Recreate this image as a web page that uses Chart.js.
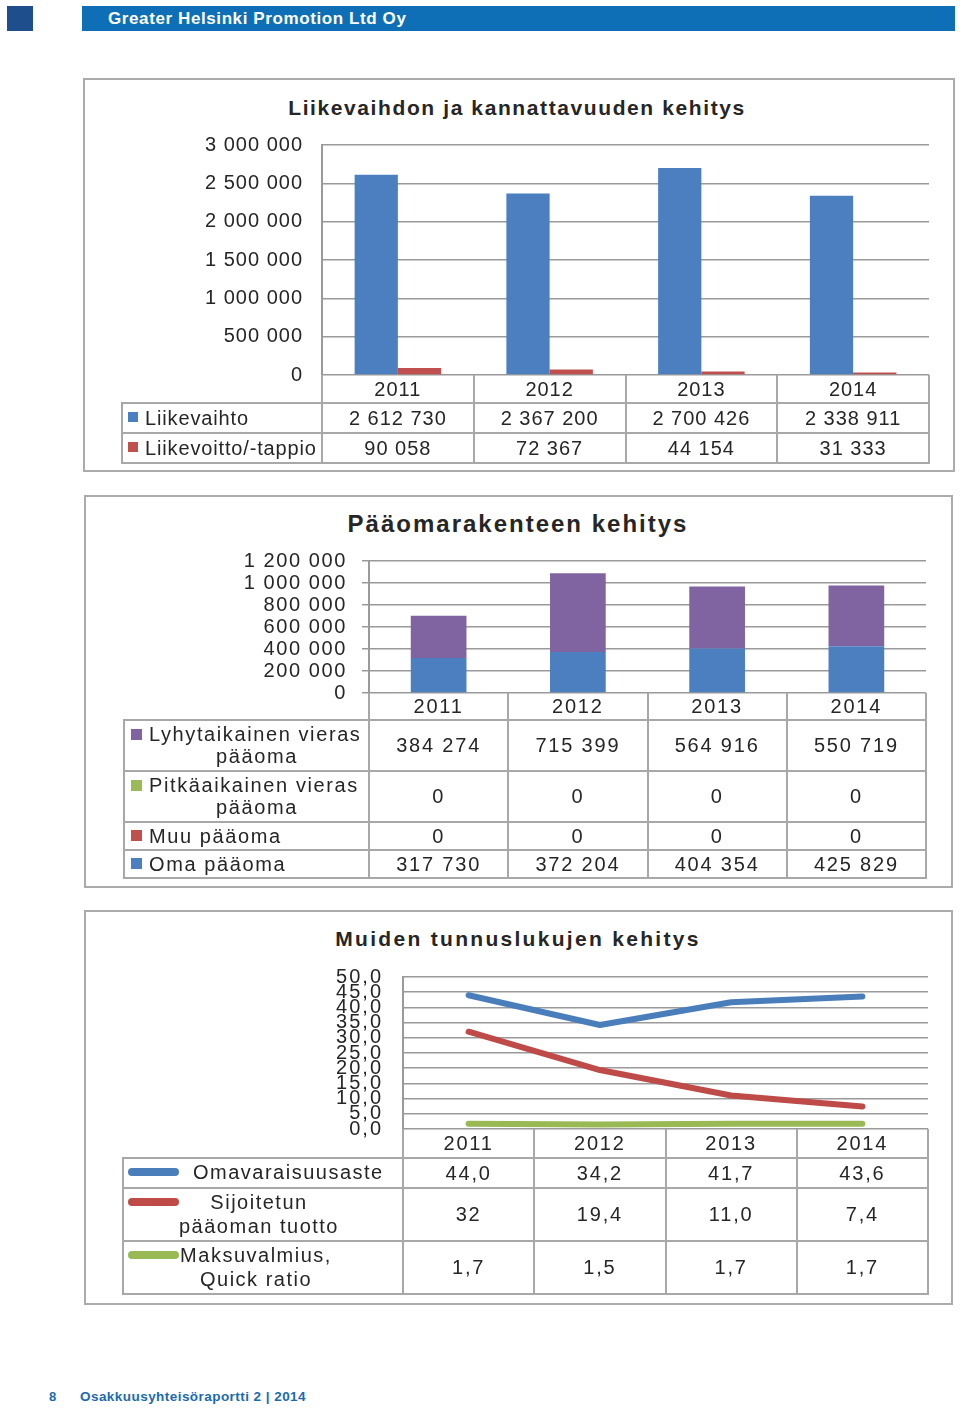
<!DOCTYPE html>
<html><head><meta charset="utf-8">
<script src="https://cdn.jsdelivr.net/npm/chart.js@4"></script>
<style>
body{margin:0;width:960px;height:1412px;position:relative;background:#fff;font-family:"Liberation Sans",Arial,sans-serif;color:#262626;overflow:hidden}
.box{position:absolute;border:2px solid #ababab;box-sizing:border-box}
.title{position:absolute;font-weight:bold;white-space:nowrap;transform:translateX(-50%);line-height:1}
.t{position:absolute;display:flex;align-items:center;justify-content:center;white-space:nowrap;box-sizing:border-box;font-size:20px}
.lab{position:absolute;white-space:nowrap;box-sizing:border-box;font-size:20px}
.ln{position:absolute;background:#a8a8a8}
.sq{display:inline-block;vertical-align:middle;position:relative;top:-1px}
.mk{position:absolute;height:8px;border-radius:4px}
canvas{position:absolute}
</style></head><body>

<div style="position:absolute;left:7px;top:6px;width:26px;height:25px;background:#1f4e8f"></div>
<div style="position:absolute;left:82px;top:6px;width:873px;height:25px;background:#0e6fb7;color:#fff;font-weight:bold;font-size:17px;line-height:26px;padding-left:26px;box-sizing:border-box;letter-spacing:0.6px">Greater Helsinki Promotion Ltd Oy</div>

<div class="box" style="left:83px;top:78px;width:872px;height:394px"></div>
<div class="title" style="left:517px;top:97px;font-size:21px;letter-spacing:1.6px">Liikevaihdon ja kannattavuuden kehitys</div>
<canvas id="c1" width="753" height="258" style="left:180px;top:131px"></canvas>

<div class="box" style="left:84px;top:495px;width:869px;height:393px"></div>
<div class="title" style="left:518px;top:512px;font-size:24px;letter-spacing:2px">Pääomarakenteen kehitys</div>
<canvas id="c2" width="710" height="160" style="left:220px;top:547px"></canvas>

<div class="box" style="left:84px;top:910px;width:869px;height:395px"></div>
<div class="title" style="left:518px;top:928px;font-size:21px;letter-spacing:2.3px">Muiden tunnuslukujen kehitys</div>
<canvas id="c3" width="636" height="180" style="left:300px;top:963px"></canvas>

<div style="position:absolute;left:49px;top:1389px;font-size:13px;font-weight:bold;color:#1b6aaf">8</div>
<div style="position:absolute;left:80px;top:1389px;font-size:13.5px;font-weight:bold;color:#1b6aaf;letter-spacing:0.45px">Osakkuusyhteisöraportti 2 | 2014</div>

<script>
// ---------- data ----------
const years = ['2011', '2012', '2013', '2014'];

const liikevaihto = [2612730, 2367200, 2700426, 2338911];
const liikevoitto = [90058, 72367, 44154, 31333];

const lyhytaikainen = [384274, 715399, 564916, 550719];
const pitkaaikainen = [0, 0, 0, 0];
const muuPaaoma = [0, 0, 0, 0];
const omaPaaoma = [317730, 372204, 404354, 425829];

const omavaraisuusaste = [44.0, 34.2, 41.7, 43.6];
const sijoitetunTuotto = [32, 19.4, 11.0, 7.4];
const maksuvalmius = [1.7, 1.5, 1.7, 1.7];
const omavaraisuusText = ['44,0', '34,2', '41,7', '43,6'];
const sijoitetunText = ['32', '19,4', '11,0', '7,4'];
const maksuvalmiusText = ['1,7', '1,5', '1,7', '1,7'];

// ---------- styles ----------
const FONT = '"Liberation Sans", Arial, sans-serif';
const TXT = '#262626';
const GRID = '#9a9a9a';
const C_BLUE = '#4b7fc0', C_RED = '#c0504d', C_GREEN = '#9bbb59', C_PURPLE = '#8064a2';
const L_BLUE = '#4a7ebb', L_RED = '#be4b48', L_GREEN = '#98b954';

Chart.defaults.font.family = FONT;
Chart.defaults.color = TXT;

const spacingPlugin = {
  id: 'spacing',
  beforeLayout(c, a, o) { c.ctx.letterSpacing = (o.px || 0) + 'px'; },
  beforeDraw(c, a, o) { c.ctx.letterSpacing = (o.px || 0) + 'px'; }
};
Chart.register(spacingPlugin);

function fmtSpace(v) { return String(Math.round(v)).replace(/\B(?=(\d{3})+(?!\d))/g, ' '); }
function fmtComma(v) { return Number(v).toFixed(1).replace('.', ','); }

function yScale(max, step, fmt, axisW, tickLen, pad, stacked) {
  return {
    stacked: !!stacked,
    min: 0, max: max,
    ticks: { stepSize: step, autoSkip: false, padding: pad, color: TXT, font: { family: FONT, size: 20 }, callback: v => fmt(v) },
    grid: { color: GRID, lineWidth: 1.5, drawTicks: tickLen > 0, tickLength: tickLen },
    border: { display: true, color: GRID, width: 2 },
    afterFit(s) { s.width = axisW; s.paddingTop = 12; s.paddingBottom = 12; }
  };
}

function baseOpts(px, padRight) {
  return {
    responsive: false, animation: false,
    layout: { padding: { top: 14, bottom: 14, left: 0, right: padRight } },
    plugins: { legend: { display: false }, tooltip: { enabled: false }, spacing: { px: px } }
  };
}

// ---------- DOM helpers ----------
function el(cls, x, y, w, h, html, extra) {
  const d = document.createElement('div');
  d.className = cls;
  d.style.left = x + 'px'; d.style.top = y + 'px';
  if (w != null) d.style.width = w + 'px';
  if (h != null) d.style.height = h + 'px';
  if (html != null) d.innerHTML = html;
  if (extra) Object.assign(d.style, extra);
  document.body.appendChild(d);
  return d;
}
function line(x, y, w, h) { el('ln', x, y, w, h); }

function buildTable(chart, canvasId, labelLeft, headerH, rows, ls, labLs) {
  const cv = document.getElementById(canvasId);
  const cx = parseFloat(cv.style.left), cy = parseFloat(cv.style.top);
  const ca = chart.chartArea;
  const L = cx + ca.left, R = cx + ca.right, B = cy + ca.bottom;
  const n = chart.data.labels.length, cw = (R - L) / n;
  const bottom = B + headerH + rows.reduce((s, r) => s + r.h, 0);
  const st = { letterSpacing: ls + 'px' };
  chart.data.labels.forEach((lab, i) => el('t', L + i * cw, B, cw, headerH, lab, st));
  for (let k = 0; k <= n; k++) line(L + k * cw - 1, B, 2, bottom - B + 1);
  let y = B + headerH;
  line(labelLeft - 1, y, 2, bottom - y + 1);
  line(labelLeft - 1, y - 1, R - labelLeft + 2, 2);
  rows.forEach(r => {
    const lc = el('lab', labelLeft, y, L - labelLeft, r.h, null, { letterSpacing: labLs + 'px' });
    r.label(lc);
    r.values.forEach((v, i) => el('t', L + i * cw, y, cw, r.h, v, st));
    y += r.h;
    line(labelLeft - 1, y - 1, R - labelLeft + 2, 2);
  });
}

function sqLabel(color, text, padL, size, gap) {
  return lc => {
    lc.style.display = 'flex'; lc.style.alignItems = 'center'; lc.style.paddingLeft = padL + 'px';
    lc.innerHTML = `<span class="sq" style="width:${size}px;height:${size}px;background:${color};margin-right:${gap}px"></span>${text}`;
  };
}
function sqLabel2(color, l1, l2, padL, size, gap) {
  return lc => {
    lc.style.paddingLeft = padL + 'px'; lc.style.paddingTop = '3px'; lc.style.lineHeight = '22px';
    lc.innerHTML = `<div><span class="sq" style="width:${size}px;height:${size}px;background:${color};margin-right:${gap}px"></span>${l1}</div>` +
      `<div style="text-align:center;padding-left:${size + gap - 4}px">${l2}</div>`;
  };
}
function lineLabel(color, lines, textLeft, textW, align) {
  return lc => {
    const m = document.createElement('div');
    m.className = 'mk'; m.style.left = '5px'; m.style.top = '10px'; m.style.width = '51px'; m.style.background = color;
    lc.appendChild(m);
    const t = document.createElement('div');
    t.style.cssText = `position:absolute;left:${textLeft}px;top:2px;width:${textW}px;line-height:24px;text-align:${align}`;
    t.innerHTML = lines.join('<br>');
    lc.appendChild(t);
  };
}

// ---------- Chart 1 ----------
const ch1 = new Chart(document.getElementById('c1'), {
  type: 'bar',
  data: {
    labels: years,
    datasets: [
      { label: 'Liikevaihto', data: liikevaihto, backgroundColor: C_BLUE },
      { label: 'Liikevoitto/-tappio', data: liikevoitto, backgroundColor: C_RED }
    ]
  },
  options: Object.assign(baseOpts(1, 4), {
    datasets: { bar: { categoryPercentage: 0.57, barPercentage: 1 } },
    scales: {
      x: { display: false, offset: true },
      y: yScale(3000000, 500000, fmtSpace, 142, 0, 19)
    }
  })
});
buildTable(ch1, 'c1', 122, 28, [
  { h: 30, label: sqLabel(C_BLUE, 'Liikevaihto', 6, 10, 7), values: liikevaihto.map(fmtSpace) },
  { h: 30, label: sqLabel(C_RED, 'Liikevoitto/-tappio', 6, 10, 7), values: liikevoitto.map(fmtSpace) }
], 1, 0.85);

// ---------- Chart 2 ----------
const ch2 = new Chart(document.getElementById('c2'), {
  type: 'bar',
  data: {
    labels: years,
    datasets: [
      { label: 'Oma pääoma', data: omaPaaoma, backgroundColor: C_BLUE },
      { label: 'Muu pääoma', data: muuPaaoma, backgroundColor: C_RED },
      { label: 'Pitkäaikainen vieras pääoma', data: pitkaaikainen, backgroundColor: C_GREEN },
      { label: 'Lyhytaikainen vieras pääoma', data: lyhytaikainen, backgroundColor: C_PURPLE }
    ]
  },
  options: Object.assign(baseOpts(1.6, 4), {
    datasets: { bar: { categoryPercentage: 0.4, barPercentage: 1 } },
    scales: {
      x: { display: false, offset: true, stacked: true },
      y: yScale(1200000, 200000, fmtSpace, 149, 7, 15, true)
    }
  })
});
buildTable(ch2, 'c2', 124, 27, [
  { h: 51, label: sqLabel2(C_PURPLE, 'Lyhytaikainen vieras', 'pääoma', 7, 11, 7), values: lyhytaikainen.map(fmtSpace) },
  { h: 51, label: sqLabel2(C_GREEN, 'Pitkäaikainen vieras', 'pääoma', 7, 11, 7), values: pitkaaikainen.map(fmtSpace) },
  { h: 28, label: sqLabel(C_RED, 'Muu pääoma', 7, 11, 7), values: muuPaaoma.map(fmtSpace) },
  { h: 28, label: sqLabel(C_BLUE, 'Oma pääoma', 7, 11, 7), values: omaPaaoma.map(fmtSpace) }
], 1.8, 1.6);

// ---------- Chart 3 ----------
const lineDs = (label, data, color) => ({
  label, data, borderColor: color, backgroundColor: color, borderWidth: 6,
  pointRadius: 0, borderCapStyle: 'round', borderJoinStyle: 'round', tension: 0, clip: false, fill: false
});
const ch3 = new Chart(document.getElementById('c3'), {
  type: 'line',
  data: {
    labels: years,
    datasets: [
      lineDs('Omavaraisuusaste', omavaraisuusaste, L_BLUE),
      lineDs('Sijoitetun pääoman tuotto', sijoitetunTuotto, L_RED),
      lineDs('Maksuvalmius, Quick ratio', maksuvalmius, L_GREEN)
    ]
  },
  options: Object.assign(baseOpts(2, 8), {
    scales: {
      x: { display: false, offset: true },
      y: yScale(50, 5, fmtComma, 103, 0, 20)
    }
  })
});
buildTable(ch3, 'c3', 123, 29, [
  { h: 30, label: lineLabel(L_BLUE, ['Omavaraisuusaste'], 70, 220, 'left'), values: omavaraisuusText },
  { h: 53, label: lineLabel(L_RED, ['Sijoitetun', 'pääoman tuotto'], 55, 162, 'center'), values: sijoitetunText },
  { h: 53, label: lineLabel(L_GREEN, ['Maksuvalmius,', 'Quick ratio'], 52, 162, 'center'), values: maksuvalmiusText }
], 1.8, 1.5);
</script>
</body></html>
